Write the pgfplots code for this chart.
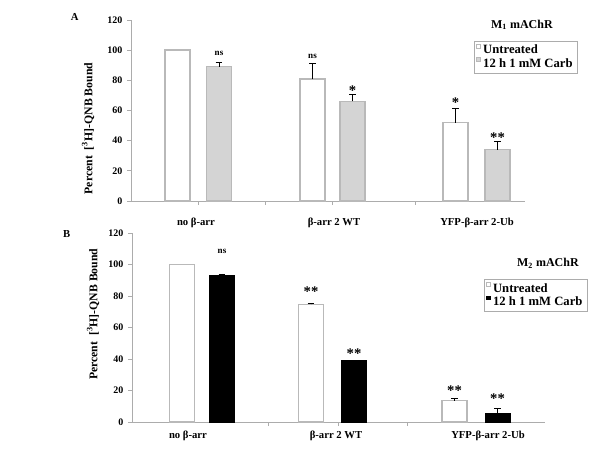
\documentclass[border=0pt]{standalone}
\usepackage{fontspec}
\setmainfont{Liberation Serif}
\usepackage{pgfplots}
\pgfplotsset{compat=1.18}
\tikzset{
 star/.style={font=\bfseries\fontsize{11}{12}\selectfont},
 nsl/.style={font=\bfseries\fontsize{6.8}{7}\selectfont},
}
\pgfplotsset{
 sqleg/.style={legend image code/.code={\draw[##1,line width=0.35pt] (0pt,2pt) rectangle (2.8pt,4.8pt);}},
 panel/.style={
  scale only axis, anchor=south west, clip=false,
  ymin=0, ymax=120, ytick={0,20,...,120},
  axis lines*=left, axis line style={gray!65, line width=0.7pt},
  tick align=outside, major tick length=3pt, tick style={gray!65, line width=0.6pt},
  /pgf/number format/assume math mode=true,
  yticklabel style={font=\bfseries\fontsize{7.5}{9}\selectfont},
  xticklabel style={font=\bfseries\fontsize{8}{10}\selectfont},
  xtick style={draw=none},
  extra x tick style={xtick style={draw=gray!65}},
  extra x tick labels={},
  ylabel={Percent\ \ [\textsuperscript{3}H]-QNB Bound},
  ylabel style={font=\bfseries\fontsize{8.8}{10}\selectfont, anchor=center},
  ybar, bar shift=0pt, bar width=25,
  error bars/y dir=plus, error bars/y explicit,
  error bars/error bar style={black, line width=0.5pt},
  error bars/error mark options={rotate=90, mark size=2.6pt, black, line width=0.5pt},
  legend cell align=left,
  legend style={draw=gray!65, line width=0.5pt, font=\bfseries\fontsize{9.5}{10.5}\selectfont,
    anchor=north west, inner xsep=1.5pt, inner ysep=1pt, row sep=-2pt},
 },
}
\begin{document}
\begin{tikzpicture}
\path[use as bounding box] (0,0) rectangle (450pt,337.5pt);
% ---------------- Panel A ----------------
\begin{axis}[panel,
  at={(98.25pt,186.75pt)}, width=295.5pt, height=135.75pt,
  xmin=131, xmax=525,
  xtick={196,334,477},
  xticklabels={no β-arr, β-arr 2 WT, YFP-β-arr 2-Ub},
  xticklabel style={yshift=-6pt},
  extra x ticks={198,265,332,415},
  ylabel style={at={(rel axis cs:-0.109,0.40)}},
  legend style={at={(rel axis cs:0.8706,0.8856)}},
]
\addplot[fill=white, draw=gray!55, line width=1.1pt, forget plot] coordinates {(177.5,100)};
\addplot[fill=white, draw=gray!55, line width=1.1pt, sqleg] coordinates {(312.5,80.8) +- (0,10.6) (455.5,52) +- (0,9.4)};
\addplot[fill=black!17, draw=gray!55, line width=1.1pt, sqleg] coordinates {(219,89) +- (0,3) (352.5,66) +- (0,4.6) (497.5,34) +- (0,5.5)};
\legend{Untreated, 12 h 1 mM Carb}
\node[nsl] at (axis cs:219,98) {ns};
\node[nsl] at (axis cs:312.5,96) {ns};
\node[star] at (axis cs:352.5,73) {*};
\node[star] at (axis cs:455.5,65) {*};
\node[star] at (axis cs:497.5,42) {**};
\node[font=\bfseries\fontsize{9}{10}\selectfont] at (rel axis cs:0.992,0.972) {M\textsubscript{1} mAChR};
\end{axis}
% ---------------- Panel B ----------------
\begin{axis}[panel,
  at={(99pt,21pt)}, width=309.75pt, height=141.75pt,
  xmin=132, xmax=545,
  xtick={188,336,488},
  xticklabels={no β-arr, β-arr 2 WT, YFP-β-arr 2-Ub},
  xticklabel style={yshift=0pt},
  extra x ticks={268,338,407},
  ylabel style={at={(rel axis cs:-0.094,0.57)}},
  legend style={at={(rel axis cs:0.852,0.756)}},
]
\addplot[fill=white, draw=gray!55, line width=0.9pt, forget plot] coordinates {(182,100)};
\addplot[fill=white, draw=gray!55, line width=0.9pt, sqleg] coordinates {(311,74.7) +- (0,0.8) (454.5,13.6) +- (0,1.4)};
\addplot[fill=black, draw=black, line width=0.6pt, sqleg] coordinates {(222,93) +- (0,1) (497.5,5.6) +- (0,2.8)};
\addplot[fill=black, draw=black, line width=0.6pt, forget plot] coordinates {(354,39)};
\legend{Untreated, 12 h 1 mM Carb}
\node[nsl] at (axis cs:222,108.5) {ns};
\node[star] at (axis cs:311,83) {**};
\node[star] at (axis cs:354,43.5) {**};
\node[star] at (axis cs:454.5,20) {**};
\node[star] at (axis cs:497.5,14.5) {**};
\node[font=\bfseries\fontsize{9}{10}\selectfont] at (rel axis cs:1.007,0.84) {M\textsubscript{2} mAChR};
\end{axis}
\node[font=\bfseries\fontsize{8}{9}\selectfont] at (56pt,324.75pt) {A};
\node[font=\bfseries\fontsize{8}{9}\selectfont] at (50pt,162pt) {B};
\end{tikzpicture}
\end{document}
